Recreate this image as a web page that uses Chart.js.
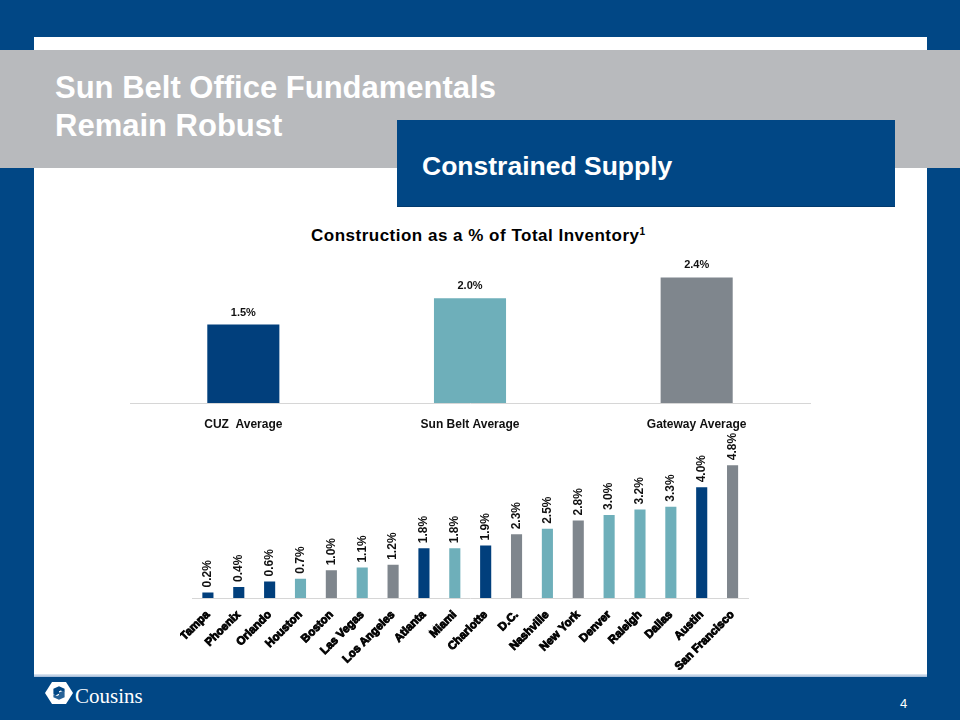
<!DOCTYPE html>
<html>
<head>
<meta charset="utf-8">
<script src="https://cdn.jsdelivr.net/npm/chart.js@4.4.1/dist/chart.umd.min.js"></script>
<style>
html,body{margin:0;padding:0;}
body{width:960px;height:720px;position:relative;overflow:hidden;background:#014785;font-family:'Liberation Sans',Arial,sans-serif;}
#panel{position:absolute;left:34px;top:37px;width:893px;height:639px;background:#fff;}
#band{position:absolute;left:0;top:50px;width:960px;height:118px;background:#b8babd;}
#title{position:absolute;left:55px;top:69px;color:#fff;font-weight:bold;font-size:31px;line-height:38px;white-space:nowrap;}
#box{position:absolute;left:397px;top:120px;width:498px;height:87px;background:#014785;border-bottom:1px solid #013a6e;box-sizing:border-box;}
#boxtext{position:absolute;left:422px;top:153px;color:#fff;font-weight:bold;font-size:26.5px;line-height:26px;white-space:nowrap;}
#ctitle{position:absolute;left:228px;top:227px;width:500px;text-align:center;color:#000;font-weight:bold;font-size:17px;line-height:17px;letter-spacing:0.5px;white-space:nowrap;}
#ctitle sup{font-size:10px;vertical-align:6px;line-height:0;letter-spacing:0;}
#c1{position:absolute;left:120px;top:246px;}
#c2{position:absolute;left:180px;top:420px;}
#rule{position:absolute;left:34px;top:674px;width:893px;height:3px;background:linear-gradient(#e3ebf4,#9fb8d6);}
#logo{position:absolute;left:45px;top:682px;}
#logotext{position:absolute;left:75px;top:686px;color:#fff;font-family:'Liberation Serif','Times New Roman',serif;font-size:21px;line-height:21px;}
#page{position:absolute;left:900px;top:697px;color:#fff;font-size:13px;line-height:13px;}
</style>
</head>
<body>
<div id="panel"></div>
<div id="band"></div>
<div id="title">Sun Belt Office Fundamentals<br>Remain Robust</div>
<div id="box"></div>
<div id="boxtext">Constrained Supply</div>
<div id="ctitle">Construction as a % of Total Inventory<sup>1</sup></div>
<canvas id="c1" width="700" height="187"></canvas>
<canvas id="c2" width="580" height="270"></canvas>
<div id="rule"></div>
<svg id="logo" width="28" height="22" viewBox="0 0 30 26" preserveAspectRatio="none">
  <polygon points="7.5,0 22.5,0 30,13 22.5,26 7.5,26 0,13" fill="#ffffff"/>
  <path d="M9 8 L15 5 L21 8 L21 12 L17 10 L15 11 L15 14 L11 16 L9 14 Z" fill="#014785"/>
  <path d="M21 18 L15 21 L9 18 L9 14.5 L13 16.5 L15 15.5 L15 12.5 L19 10.5 L21 12 Z" fill="#014785" opacity="0.85"/>
</svg>
<div id="logotext">Cousins</div>
<div id="page">4</div>
<script>
// ---- data ----
const topCategories = ['CUZ  Average', 'Sun Belt Average', 'Gateway Average'];
const topValues = [1.5, 2.0, 2.4];
const topGroups = ['CUZ', 'SunBelt', 'Gateway'];

const markets = ['Tampa', 'Phoenix', 'Orlando', 'Houston', 'Boston', 'Las Vegas', 'Los Angeles',
  'Atlanta', 'Miami', 'Charlotte', 'D.C.', 'Nashville', 'New York', 'Denver', 'Raleigh',
  'Dallas', 'Austin', 'San Francisco'];
const marketValues = [0.2, 0.4, 0.6, 0.7, 1.0, 1.1, 1.2, 1.8, 1.8, 1.9, 2.3, 2.5, 2.8, 3.0, 3.2, 3.3, 4.0, 4.8];
const marketGroups = ['CUZ', 'CUZ', 'CUZ', 'SunBelt', 'Gateway', 'SunBelt', 'Gateway',
  'CUZ', 'SunBelt', 'CUZ', 'Gateway', 'SunBelt', 'Gateway', 'SunBelt', 'SunBelt',
  'SunBelt', 'CUZ', 'Gateway'];

// ---- styles ----
const groupColors = { CUZ: '#013f7c', SunBelt: '#6eafba', Gateway: '#7f868d' };

const valueLabels = {
  id: 'valueLabels',
  afterDatasetsDraw(chart, args, opts) {
    const ctx = chart.ctx;
    const meta = chart.getDatasetMeta(0);
    const data = chart.data.datasets[0].data;
    ctx.save();
    ctx.fillStyle = opts.color;
    ctx.font = opts.font;
    meta.data.forEach((bar, i) => {
      const txt = data[i].toFixed(1) + '%';
      if (opts.rotate) {
        ctx.save();
        ctx.translate(bar.x, bar.y - opts.gap);
        ctx.rotate(-Math.PI / 2);
        ctx.textAlign = 'left';
        ctx.textBaseline = 'middle';
        ctx.fillText(txt, 0, 0);
        ctx.restore();
      } else {
        ctx.textAlign = 'center';
        ctx.textBaseline = 'alphabetic';
        ctx.fillText(txt, bar.x, bar.y - opts.gap);
      }
    });
    ctx.restore();
  }
};

Chart.defaults.font.family = "'Liberation Sans', Arial, sans-serif";
Chart.defaults.color = '#000';

new Chart(document.getElementById('c1'), {
  type: 'bar',
  data: {
    labels: topCategories,
    datasets: [{
      data: topValues,
      backgroundColor: topGroups.map(g => groupColors[g]),
      barPercentage: 0.318,
      categoryPercentage: 1
    }]
  },
  options: {
    responsive: false,
    animation: false,
    devicePixelRatio: 1,
    layout: { padding: { left: 10, right: 10, top: 0, bottom: 0 } },
    plugins: {
      legend: { display: false },
      tooltip: { enabled: false },
      valueLabels: { font: "bold 11px 'Liberation Sans', Arial, sans-serif", color: '#111', gap: 9, rotate: false }
    },
    scales: {
      x: {
        grid: { display: false },
        border: { color: '#d6d6d6', width: 1 },
        ticks: { padding: 6, font: { size: 12, weight: 'bold' }, color: '#111' },
        afterFit: s => { s.height = 30; }
      },
      y: { display: false, min: 0, max: 3 }
    }
  },
  plugins: [valueLabels]
});

new Chart(document.getElementById('c2'), {
  type: 'bar',
  data: {
    labels: markets,
    datasets: [{
      data: marketValues,
      backgroundColor: marketGroups.map(g => groupColors[g]),
      barPercentage: 0.36,
      categoryPercentage: 1
    }]
  },
  options: {
    responsive: false,
    animation: false,
    devicePixelRatio: 1,
    layout: { padding: { left: 11, right: 12, top: 12, bottom: 0 } },
    plugins: {
      legend: { display: false },
      tooltip: { enabled: false },
      valueLabels: { font: "bold 12px 'Liberation Sans Narrow', 'Arial Narrow', 'Liberation Sans', Arial, sans-serif", color: '#111', gap: 5, rotate: true }
    },
    scales: {
      x: {
        grid: { display: false },
        border: { color: '#d6d6d6', width: 1 },
        ticks: {
          autoSkip: false, minRotation: 45, maxRotation: 45, padding: 2,
          font: { size: 11.5, weight: 'bold' }, color: '#000',
          textStrokeColor: '#000', textStrokeWidth: 0.9
        },
        afterFit: s => { s.height = 92; }
      },
      y: { display: false, min: 0, max: 6 }
    }
  },
  plugins: [valueLabels]
});
</script>
</body>
</html>
